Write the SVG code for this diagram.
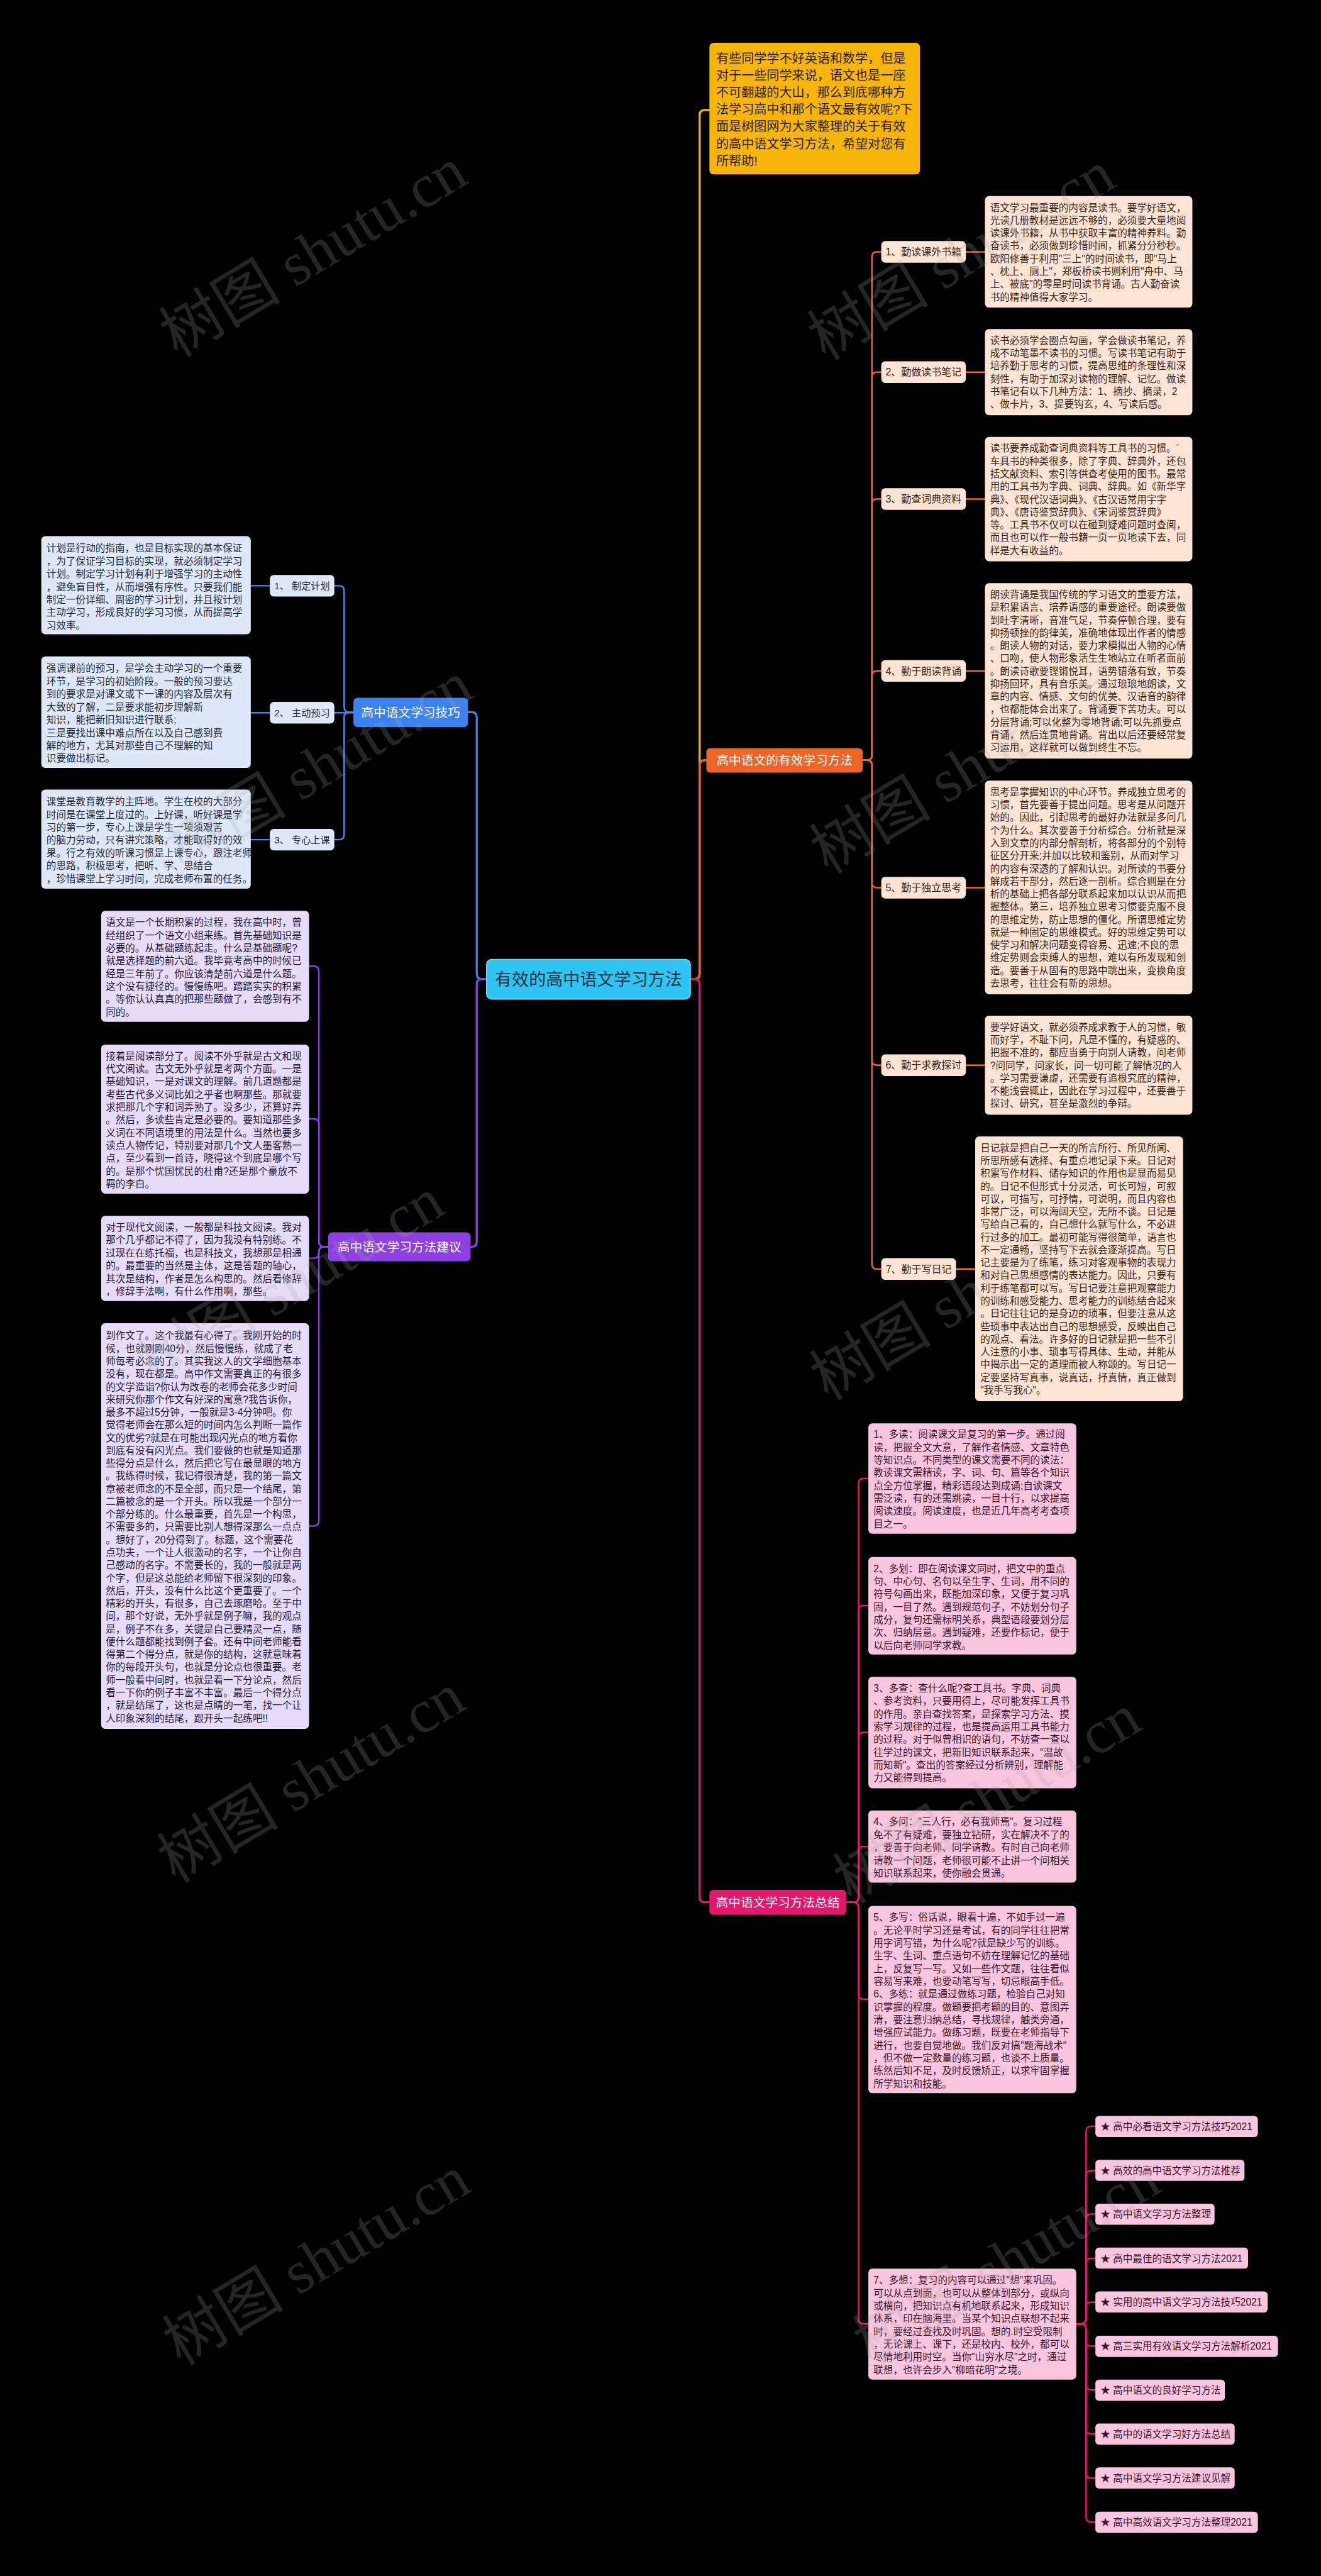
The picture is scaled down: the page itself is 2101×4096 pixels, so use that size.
<svg xmlns="http://www.w3.org/2000/svg" width="2101" height="4096" viewBox="0 0 2101 4096">
<defs>
<style>
.f{font-family:"Liberation Sans","Noto Sans CJK SC",sans-serif}
.bt{font-family:"Liberation Sans","Noto Sans CJK SC",sans-serif;font-size:19px}
.ob{fill:#FCE3D4}
.ot{fill:#3B2418}
.bb{fill:#DFE8F8}
.btx{fill:#1E2B3C}
.pb{fill:#E6DCF9}
.ptx{fill:#24183A}
.mb{fill:#F9C4DD}
.mtx{fill:#3A1428}
.wm{font-family:"Liberation Serif","Noto Sans CJK SC",serif;font-size:118px;fill:#aaaaaa;opacity:0.22}
.c4{fill:none;stroke-width:4;stroke-linecap:round}
.c3{fill:none;stroke-width:3;stroke-linecap:round}
</style>
</defs>
<rect width="2101" height="4096" fill="#000000"/>
<g transform="scale(0.8206)">
<g id="connectors">
<path class="c4" stroke="#F5B400" d="M1338,1897H1346Q1356,1897 1356,1887V223Q1356,213 1366,213H1375"/>
<path class="c4" stroke="#EC6428" d="M1338,1897H1346Q1356,1897 1356,1887V1483Q1356,1473 1366,1473H1369"/>
<path class="c4" stroke="#E3176B" d="M1338,1897H1346Q1356,1897 1356,1907V3676Q1356,3686 1366,3686H1375"/>
<path class="c4" stroke="#3B82EF" d="M943,1897H934Q924,1897 924,1887V1390Q924,1380 914,1380H907"/>
<path class="c4" stroke="#8D3FE2" d="M943,1897H934Q924,1897 924,1907V2406Q924,2416 914,2416H912"/>
<g stroke="#EC6428">
<path class="c3" d="M1672,1473H1680Q1690,1473 1690,1463V498Q1690,488 1700,488H1708"/>
<path class="c3" d="M1672,1473H1680Q1690,1473 1690,1463V731Q1690,721 1700,721H1708"/>
<path class="c3" d="M1672,1473H1680Q1690,1473 1690,1463V977Q1690,967 1700,967H1708"/>
<path class="c3" d="M1672,1473H1680Q1690,1473 1690,1463V1310Q1690,1300 1700,1300H1708"/>
<path class="c3" d="M1672,1473H1680Q1690,1473 1690,1483V1710Q1690,1720 1700,1720H1708"/>
<path class="c3" d="M1672,1473H1680Q1690,1473 1690,1483V2054Q1690,2064 1700,2064H1708"/>
<path class="c3" d="M1672,1473H1680Q1690,1473 1690,1483V2449Q1690,2459 1700,2459H1708"/>
<path class="c3" d="M1872,488H1909M1872,721H1909M1872,967H1909M1872,1300H1909M1872,1720H1909M1872,2064H1909M1853,2459H1890"/>
</g>
<g stroke="#4A88EE">
<path class="c3" d="M685,1380H677Q667,1380 667,1370V1145Q667,1135 657,1135H648"/>
<path class="c3" d="M685,1381H648"/>
<path class="c3" d="M685,1380H677Q667,1380 667,1390V1617Q667,1627 657,1627H648"/>
<path class="c3" d="M523,1135H486M523,1381H486M523,1627H486"/>
</g>
<g stroke="#8D3FE2">
<path class="c3" d="M636,2416H628Q618,2416 618,2406V1882Q618,1872 608,1872H599"/>
<path class="c3" d="M636,2416H628Q618,2416 618,2406V2178Q618,2168 608,2168H599"/>
<path class="c3" d="M636,2416H628Q618,2416 618,2426V2428Q618,2438 608,2438H599"/>
<path class="c3" d="M636,2416H628Q618,2416 618,2426V2947Q618,2957 608,2957H599"/>
</g>
<g stroke="#E3176B">
<path class="c3" d="M1640,3686H1654Q1664,3686 1664,3676V2875Q1664,2865 1674,2865H1683"/>
<path class="c3" d="M1640,3686H1654Q1664,3686 1664,3676V3121Q1664,3111 1674,3111H1683"/>
<path class="c3" d="M1640,3686H1654Q1664,3686 1664,3676V3367Q1664,3357 1674,3357H1683"/>
<path class="c3" d="M1640,3686H1654Q1664,3686 1664,3676V3588Q1664,3578 1674,3578H1683"/>
<path class="c3" d="M1640,3686H1654Q1664,3686 1664,3696V3864Q1664,3874 1674,3874H1683"/>
<path class="c3" d="M1640,3686H1654Q1664,3686 1664,3696V4493Q1664,4503 1674,4503H1683"/>
<path class="c3" d="M2086,4503H2095Q2105,4503 2105,4493V4130Q2105,4120 2115,4120H2123"/>
<path class="c3" d="M2086,4503H2095Q2105,4503 2105,4493V4216Q2105,4206 2115,4206H2123"/>
<path class="c3" d="M2086,4503H2095Q2105,4503 2105,4493V4300Q2105,4290 2115,4290H2123"/>
<path class="c3" d="M2086,4503H2095Q2105,4503 2105,4493V4386Q2105,4376 2115,4376H2123"/>
<path class="c3" d="M2086,4503H2095Q2105,4503 2105,4493V4471Q2105,4461 2115,4461H2123"/>
<path class="c3" d="M2086,4503H2095Q2105,4503 2105,4513V4536Q2105,4546 2115,4546H2123"/>
<path class="c3" d="M2086,4503H2095Q2105,4503 2105,4513V4621Q2105,4631 2115,4631H2123"/>
<path class="c3" d="M2086,4503H2095Q2105,4503 2105,4513V4706Q2105,4716 2115,4716H2123"/>
<path class="c3" d="M2086,4503H2095Q2105,4503 2105,4513V4792Q2105,4802 2115,4802H2123"/>
<path class="c3" d="M2086,4503H2095Q2105,4503 2105,4513V4877Q2105,4887 2115,4887H2123"/>
</g>
</g>

<g id="root">
<rect x="943" y="1859" width="395" height="77" rx="10" fill="#2EC5F5" stroke="#72D6F7" stroke-width="2"/>
<text class="f" x="1140.5" y="1909" font-size="33" fill="#1B3441" text-anchor="middle">有效的高中语文学习方法</text>
</g>

<g id="intro">
<rect x="1375" y="83" width="408" height="255" rx="8" fill="#F7B50C"/>
<text class="f" font-size="24.5" fill="#2A1E00">
<tspan x="1388" y="122">有些同学学不好英语和数学，但是</tspan>
<tspan x="1388" y="155">对于一些同学来说，语文也是一座</tspan>
<tspan x="1388" y="188">不可翻越的大山，那么到底哪种方</tspan>
<tspan x="1388" y="221">法学习高中和那个语文最有效呢?下</tspan>
<tspan x="1388" y="254">面是树图网为大家整理的关于有效</tspan>
<tspan x="1388" y="287">的高中语文学习方法，希望对您有</tspan>
<tspan x="1388" y="320">所帮助!</tspan>
</text>
</g>

<g id="branch-orange">
<rect x="1369" y="1450" width="303" height="47" rx="7" fill="#EC6428"/>
<text class="f" x="1520.5" y="1482" font-size="24" fill="#FFFFFF" text-anchor="middle">高中语文的有效学习方法</text>
</g>

<g id="o1">
<rect class="ob" x="1708" y="467" width="164" height="42" rx="8"/>
<text class="f ot" x="1790" y="495" font-size="19.5" text-anchor="middle">1、勤读课外书籍</text>
<rect class="ob" x="1909" y="380" width="402" height="216" rx="8"/>
<text class="bt ot">
<tspan x="1919" y="409">语文学习最重要的内容是读书。要学好语文，</tspan>
<tspan x="1919" dy="24.7">光读几册教材是远远不够的，必须要大量地阅</tspan>
<tspan x="1919" dy="24.7">读课外书籍，从书中获取丰富的精神养料。勤</tspan>
<tspan x="1919" dy="24.7">奋读书，必须做到珍惜时间，抓紧分分秒秒。</tspan>
<tspan x="1919" dy="24.7">欧阳修善于利用"三上"的时间读书，即"马上</tspan>
<tspan x="1919" dy="24.7">、枕上、厕上"，郑板桥读书则利用"舟中、马</tspan>
<tspan x="1919" dy="24.7">上、被底"的零星时间读书背诵。古人勤奋读</tspan>
<tspan x="1919" dy="24.7">书的精神值得大家学习。</tspan>
</text>
</g>

<g id="o2">
<rect class="ob" x="1708" y="700" width="164" height="42" rx="8"/>
<text class="f ot" x="1790" y="728" font-size="19.5" text-anchor="middle">2、勤做读书笔记</text>
<rect class="ob" x="1909" y="637.5" width="402" height="167" rx="8"/>
<text class="bt ot">
<tspan x="1919" y="666.5">读书必须学会圈点勾画，学会做读书笔记，养</tspan>
<tspan x="1919" dy="24.7">成不动笔墨不读书的习惯。写读书笔记有助于</tspan>
<tspan x="1919" dy="24.7">培养勤于思考的习惯，提高思维的条理性和深</tspan>
<tspan x="1919" dy="24.7">刻性，有助于加深对读物的理解、记忆。做读</tspan>
<tspan x="1919" dy="24.7">书笔记有以下几种方法：1、摘抄、摘录，2</tspan>
<tspan x="1919" dy="24.7">、做卡片，3、提要钩玄，4、写读后感。</tspan>
</text>
</g>

<g id="o3">
<rect class="ob" x="1708" y="946" width="164" height="42" rx="8"/>
<text class="f ot" x="1790" y="974" font-size="19.5" text-anchor="middle">3、勤查词典资料</text>
<rect class="ob" x="1909" y="846.5" width="402" height="241" rx="8"/>
<text class="bt ot">
<tspan x="1919" y="875.5">读书要养成勤查词典资料等工具书的习惯。ˉ</tspan>
<tspan x="1919" dy="24.7">车具书的种类很多，除了字典、辞典外，还包</tspan>
<tspan x="1919" dy="24.7">括文献资料、索引等供查考使用的图书。最常</tspan>
<tspan x="1919" dy="24.7">用的工具书为字典、词典、辞典。如《新华字</tspan>
<tspan x="1919" dy="24.7">典》、《现代汉语词典》、《古汉语常用宇字</tspan>
<tspan x="1919" dy="24.7">典》、《唐诗鉴赏辞典》、《宋词鉴赏辞典》</tspan>
<tspan x="1919" dy="24.7">等。工具书不仅可以在碰到疑难问题时查阅，</tspan>
<tspan x="1919" dy="24.7">而且也可以作一般书籍一页一页地读下去，同</tspan>
<tspan x="1919" dy="24.7">样是大有收益的。</tspan>
</text>
</g>

<g id="o4">
<rect class="ob" x="1708" y="1279" width="164" height="42" rx="8"/>
<text class="f ot" x="1790" y="1307" font-size="19.5" text-anchor="middle">4、勤于朗读背诵</text>
<rect class="ob" x="1909" y="1130" width="402" height="340" rx="8"/>
<text class="bt ot">
<tspan x="1919" y="1159">朗读背诵是我国传统的学习语文的重要方法，</tspan>
<tspan x="1919" dy="24.7">是积累语言、培养语感的重要途径。朗读要做</tspan>
<tspan x="1919" dy="24.7">到吐字清晰，音准气足，节奏停顿合理，要有</tspan>
<tspan x="1919" dy="24.7">抑扬顿挫的韵律美，准确地体现出作者的情感</tspan>
<tspan x="1919" dy="24.7">。朗读人物的对话，要力求模拟出人物的心情</tspan>
<tspan x="1919" dy="24.7">、口吻，使人物形象活生生地站立在听者面前</tspan>
<tspan x="1919" dy="24.7">。朗读诗歌要铿锵悦耳，语势错落有致，节奏</tspan>
<tspan x="1919" dy="24.7">抑扬回环，具有音乐美。通过琅琅地朗读，文</tspan>
<tspan x="1919" dy="24.7">章的内容、情感、文句的优美、汉语音的韵律</tspan>
<tspan x="1919" dy="24.7">，也都能体会出来了。背诵要下苦功夫。可以</tspan>
<tspan x="1919" dy="24.7">分层背诵;可以化整为零地背诵;可以先抓要点</tspan>
<tspan x="1919" dy="24.7">背诵，然后连贯地背诵。背出以后还要经常复</tspan>
<tspan x="1919" dy="24.7">习运用，这样就可以做到终生不忘。</tspan>
</text>
</g>

<g id="o5">
<rect class="ob" x="1708" y="1699" width="164" height="42" rx="8"/>
<text class="f ot" x="1790" y="1727" font-size="19.5" text-anchor="middle">5、勤于独立思考</text>
<rect class="ob" x="1909" y="1512.5" width="402" height="414" rx="8"/>
<text class="bt ot">
<tspan x="1919" y="1541.5">思考是掌握知识的中心环节。养成独立思考的</tspan>
<tspan x="1919" dy="24.7">习惯，首先要善于提出问题。思考是从问题开</tspan>
<tspan x="1919" dy="24.7">始的。因此，引起思考的最好办法就是多问几</tspan>
<tspan x="1919" dy="24.7">个为什么。其次要善于分析综合。分析就是深</tspan>
<tspan x="1919" dy="24.7">入到文章的内部分解剖析，将各部分的个别特</tspan>
<tspan x="1919" dy="24.7">征区分开来;并加以比较和鉴别，从而对学习</tspan>
<tspan x="1919" dy="24.7">的内容有深透的了解和认识。对所读的书要分</tspan>
<tspan x="1919" dy="24.7">解成若干部分，然后逐一剖析。综合则是在分</tspan>
<tspan x="1919" dy="24.7">析的基础上把各部分联系起来加以认识从而把</tspan>
<tspan x="1919" dy="24.7">握整体。第三，培养独立思考习惯要克服不良</tspan>
<tspan x="1919" dy="24.7">的思维定势，防止思想的僵化。所谓思维定势</tspan>
<tspan x="1919" dy="24.7">就是一种固定的思维模式。好的思维定势可以</tspan>
<tspan x="1919" dy="24.7">使学习和解决问题变得容易、迅速;不良的思</tspan>
<tspan x="1919" dy="24.7">维定势则会束缚人的思想，难以有所发现和创</tspan>
<tspan x="1919" dy="24.7">造。要善于从固有的思路中跳出来，变换角度</tspan>
<tspan x="1919" dy="24.7">去思考，往往会有新的思想。</tspan>
</text>
</g>

<g id="o6">
<rect class="ob" x="1708" y="2043" width="164" height="42" rx="8"/>
<text class="f ot" x="1790" y="2071" font-size="19.5" text-anchor="middle">6、勤于求教探讨</text>
<rect class="ob" x="1909" y="1968" width="402" height="192" rx="8"/>
<text class="bt ot">
<tspan x="1919" y="1997">要学好语文，就必须养成求教于人的习惯，敏</tspan>
<tspan x="1919" dy="24.7">而好学，不耻下问，凡是不懂的，有疑惑的、</tspan>
<tspan x="1919" dy="24.7">把握不准的，都应当勇于向别人请教，问老师</tspan>
<tspan x="1919" dy="24.7">?问同学，问家长，问一切可能了解情况的人</tspan>
<tspan x="1919" dy="24.7">。学习需要谦虚，还需要有追根究底的精神，</tspan>
<tspan x="1919" dy="24.7">不能浅尝辄止，因此在学习过程中，还要善于</tspan>
<tspan x="1919" dy="24.7">探讨、研究，甚至是激烈的争辩。</tspan>
</text>
</g>

<g id="o7">
<rect class="ob" x="1708" y="2438" width="145" height="42" rx="8"/>
<text class="f ot" x="1780.5" y="2466" font-size="19.5" text-anchor="middle">7、勤于写日记</text>
<rect class="ob" x="1890" y="2202" width="403" height="513" rx="8"/>
<text class="bt ot">
<tspan x="1900" y="2231">日记就是把自己一天的所言所行、所见所闻、</tspan>
<tspan x="1900" dy="24.7">所思所感有选择、有重点地记录下来。日记对</tspan>
<tspan x="1900" dy="24.7">积累写作材料、储存知识的作用也是显而易见</tspan>
<tspan x="1900" dy="24.7">的。日记不但形式十分灵活，可长可短，可叙</tspan>
<tspan x="1900" dy="24.7">可议，可描写，可抒情，可说明，而且内容也</tspan>
<tspan x="1900" dy="24.7">非常广泛，可以海阔天空，无所不谈。日记是</tspan>
<tspan x="1900" dy="24.7">写给自己看的，自己想什么就写什么，不必进</tspan>
<tspan x="1900" dy="24.7">行过多的加工。最初可能写得很简单，语言也</tspan>
<tspan x="1900" dy="24.7">不一定通畅，坚持写下去就会逐渐提高。写日</tspan>
<tspan x="1900" dy="24.7">记主要是为了练笔，练习对客观事物的表现力</tspan>
<tspan x="1900" dy="24.7">和对自己思想感情的表达能力。因此，只要有</tspan>
<tspan x="1900" dy="24.7">利于练笔都可以写。写日记要注意把观察能力</tspan>
<tspan x="1900" dy="24.7">的训练和感受能力、思考能力的训练结合起来</tspan>
<tspan x="1900" dy="24.7">。日记往往记的是身边的琐事，但要注意从这</tspan>
<tspan x="1900" dy="24.7">些琐事中表达出自己的思想感受，反映出自己</tspan>
<tspan x="1900" dy="24.7">的观点、看法。许多好的日记就是把一些不引</tspan>
<tspan x="1900" dy="24.7">人注意的小事、琐事写得具体、生动，并能从</tspan>
<tspan x="1900" dy="24.7">中揭示出一定的道理而被人称颂的。写日记一</tspan>
<tspan x="1900" dy="24.7">定要坚持写真事，说真话，抒真情，真正做到</tspan>
<tspan x="1900" dy="24.7">"我手写我心"。</tspan>
</text>
</g>

<g id="branch-blue">
<rect x="685" y="1352" width="222" height="57" rx="8" fill="#3B82EF"/>
<text class="f" x="796" y="1389" font-size="24" fill="#FFFFFF" text-anchor="middle">高中语文学习技巧</text>
</g>

<g id="b1">
<rect class="bb" x="523" y="1114" width="125" height="42" rx="8"/>
<text class="f btx" x="585.5" y="1142" font-size="18.5" text-anchor="middle">1、 制定计划</text>
<rect class="bb" x="80" y="1039" width="406" height="190" rx="8"/>
<text class="bt btx">
<tspan x="90" y="1069">计划是行动的指南，也是目标实现的基本保证</tspan>
<tspan x="90" dy="24.9">，为了保证学习目标的实现，就必须制定学习</tspan>
<tspan x="90" dy="24.9">计划。制定学习计划有利于增强学习的主动性</tspan>
<tspan x="90" dy="24.9">，避免盲目性，从而增强有序性。只要我们能</tspan>
<tspan x="90" dy="24.9">制定一份详细、周密的学习计划，并且按计划</tspan>
<tspan x="90" dy="24.9">主动学习，形成良好的学习习惯，从而提高学</tspan>
<tspan x="90" dy="24.9">习效率。</tspan>
</text>
</g>

<g id="b2">
<rect class="bb" x="523" y="1360" width="125" height="42" rx="8"/>
<text class="f btx" x="585.5" y="1388" font-size="18.5" text-anchor="middle">2、 主动预习</text>
<rect class="bb" x="80" y="1272" width="406" height="216" rx="8"/>
<text class="bt btx">
<tspan x="90" y="1302">强调课前的预习，是学会主动学习的一个重要</tspan>
<tspan x="90" dy="24.9">环节，是学习的初始阶段。一般的预习要达</tspan>
<tspan x="90" dy="24.9">到的要求是对课文或下一课的内容及层次有</tspan>
<tspan x="90" dy="24.9">大致的了解，二是要求能初步理解新</tspan>
<tspan x="90" dy="24.9">知识，能把新旧知识进行联系;</tspan>
<tspan x="90" dy="24.9">三是要找出课中难点所在以及自己感到费</tspan>
<tspan x="90" dy="24.9">解的地方，尤其对那些自己不理解的知</tspan>
<tspan x="90" dy="24.9">识要做出标记。</tspan>
</text>
</g>

<g id="b3">
<rect class="bb" x="523" y="1606" width="125" height="42" rx="8"/>
<text class="f btx" x="585.5" y="1634" font-size="18.5" text-anchor="middle">3、 专心上课</text>
<rect class="bb" x="80" y="1530" width="406" height="192" rx="8"/>
<text class="bt btx">
<tspan x="90" y="1560">课堂是教育教学的主阵地。学生在校的大部分</tspan>
<tspan x="90" dy="24.9">时间是在课堂上度过的。上好课，听好课是学</tspan>
<tspan x="90" dy="24.9">习的第一步，专心上课是学生一项须艰苦</tspan>
<tspan x="90" dy="24.9">的脑力劳动，只有讲究策略，才能取得好的效</tspan>
<tspan x="90" dy="24.9">果。行之有效的听课习惯是上课专心，跟注老师</tspan>
<tspan x="90" dy="24.9">的思路，积极思考，把听、学、思结合</tspan>
<tspan x="90" dy="24.9">，珍惜课堂上学习时间，完成老师布置的任务。</tspan>
</text>
</g>

<g id="branch-purple">
<rect x="636" y="2388" width="276" height="56" rx="8" fill="#8D3FE2"/>
<text class="f" x="774" y="2424.5" font-size="24" fill="#FFFFFF" text-anchor="middle">高中语文学习方法建议</text>
</g>

<g id="p1">
<rect class="pb" x="196" y="1765" width="403" height="215" rx="8"/>
<text class="bt ptx">
<tspan x="205" y="1794">语文是一个长期积累的过程，我在高中时，曾</tspan>
<tspan x="205" dy="24.8">经组织了一个语文小组来练。首先基础知识是</tspan>
<tspan x="205" dy="24.8">必要的。从基础题练起走。什么是基础题呢?</tspan>
<tspan x="205" dy="24.8">就是选择题的前六道。我毕竟考高中的时候已</tspan>
<tspan x="205" dy="24.8">经是三年前了。你应该清楚前六道是什么题。</tspan>
<tspan x="205" dy="24.8">这个没有捷径的。慢慢练吧。踏踏实实的积累</tspan>
<tspan x="205" dy="24.8">。等你认认真真的把那些题做了，会感到有不</tspan>
<tspan x="205" dy="24.8">同的。</tspan>
</text>
</g>

<g id="p2">
<rect class="pb" x="196" y="2024" width="403" height="289" rx="8"/>
<text class="bt ptx">
<tspan x="205" y="2053">接着是阅读部分了。阅读不外乎就是古文和现</tspan>
<tspan x="205" dy="24.8">代文阅读。古文无外乎就是考两个方面。一是</tspan>
<tspan x="205" dy="24.8">基础知识，一是对课文的理解。前几道题都是</tspan>
<tspan x="205" dy="24.8">考些古代多义词比如之乎者也啊那些。那就要</tspan>
<tspan x="205" dy="24.8">求把那几个字和词弄熟了。没多少，还算好弄</tspan>
<tspan x="205" dy="24.8">。然后，多读些肯定是必要的。要知道那些多</tspan>
<tspan x="205" dy="24.8">义词在不同语境里的用法是什么。当然也要多</tspan>
<tspan x="205" dy="24.8">读点人物传记，特别要对那几个文人墨客熟一</tspan>
<tspan x="205" dy="24.8">点，至少看到一首诗，晓得这个到底是哪个写</tspan>
<tspan x="205" dy="24.8">的。是那个忧国忧民的杜甫?还是那个豪放不</tspan>
<tspan x="205" dy="24.8">羁的李白。</tspan>
</text>
</g>

<g id="p3">
<rect class="pb" x="196" y="2356" width="403" height="165" rx="8"/>
<text class="bt ptx">
<tspan x="205" y="2385">对于现代文阅读，一般都是科技文阅读。我对</tspan>
<tspan x="205" dy="24.8">那个几乎都记不得了，因为我没有特别练。不</tspan>
<tspan x="205" dy="24.8">过现在在练托福，也是科技文，我想那是相通</tspan>
<tspan x="205" dy="24.8">的。最重要的当然是主体，这是答题的轴心，</tspan>
<tspan x="205" dy="24.8">其次是结构，作者是怎么构思的。然后看修辞</tspan>
<tspan x="205" dy="24.8">，修辞手法啊，有什么作用啊，那些。</tspan>
</text>
</g>

<g id="p4">
<rect class="pb" x="196" y="2564" width="403" height="786" rx="8"/>
<text class="bt ptx">
<tspan x="205" y="2595">到作文了。这个我最有心得了。我刚开始的时</tspan>
<tspan x="205" dy="24.7">候，也就刚刚40分，然后慢慢练，就成了老</tspan>
<tspan x="205" dy="24.7">师每考必念的了。其实我这人的文学细胞基本</tspan>
<tspan x="205" dy="24.7">没有，现在都是。高中作文需要真正的有很多</tspan>
<tspan x="205" dy="24.7">的文学造诣?你认为改卷的老师会花多少时间</tspan>
<tspan x="205" dy="24.7">来研究你那个作文有好深的寓意?我告诉你，</tspan>
<tspan x="205" dy="24.7">最多不超过5分钟，一般就是3-4分钟吧。你</tspan>
<tspan x="205" dy="24.7">觉得老师会在那么短的时间内怎么判断一篇作</tspan>
<tspan x="205" dy="24.7">文的优劣?就是在可能出现闪光点的地方看你</tspan>
<tspan x="205" dy="24.7">到底有没有闪光点。我们要做的也就是知道那</tspan>
<tspan x="205" dy="24.7">些得分点是什么，然后把它写在最显眼的地方</tspan>
<tspan x="205" dy="24.7">。我练得时候，我记得很清楚，我的第一篇文</tspan>
<tspan x="205" dy="24.7">章被老师念的不是全部，而只是一个结尾，第</tspan>
<tspan x="205" dy="24.7">二篇被念的是一个开头。所以我是一个部分一</tspan>
<tspan x="205" dy="24.7">个部分练的。什么最重要，首先是一个构思，</tspan>
<tspan x="205" dy="24.7">不需要多的，只需要比别人想得深那么一点点</tspan>
<tspan x="205" dy="24.7">。想好了，20分得到了。标题，这个需要花</tspan>
<tspan x="205" dy="24.7">点功夫，一个让人很激动的名字，一个让你自</tspan>
<tspan x="205" dy="24.7">己感动的名字。不需要长的，我的一般就是两</tspan>
<tspan x="205" dy="24.7">个字，但是这总能给老师留下很深刻的印象。</tspan>
<tspan x="205" dy="24.7">然后，开头，没有什么比这个更重要了。一个</tspan>
<tspan x="205" dy="24.7">精彩的开头，有很多，自己去琢磨哈。至于中</tspan>
<tspan x="205" dy="24.7">间，那个好说，无外乎就是例子嘛，我的观点</tspan>
<tspan x="205" dy="24.7">是，例子不在多，关键是自己要精灵一点，随</tspan>
<tspan x="205" dy="24.7">便什么题都能找到例子套。还有中间老师能看</tspan>
<tspan x="205" dy="24.7">得第二个得分点，就是你的结构，这就意味着</tspan>
<tspan x="205" dy="24.7">你的每段开头句，也就是分论点也很重要。老</tspan>
<tspan x="205" dy="24.7">师一般看中间时，也就是看一下分论点，然后</tspan>
<tspan x="205" dy="24.7">看一下你的例子丰富不丰富。最后一个得分点</tspan>
<tspan x="205" dy="24.7">，就是结尾了，这也是点睛的一笔，找一个让</tspan>
<tspan x="205" dy="24.7">人印象深刻的结尾，跟开头一起练吧!!</tspan>
</text>
</g>

<g id="branch-magenta">
<rect x="1375" y="3662" width="265" height="48" rx="7" fill="#E3176B"/>
<text class="f" x="1507.5" y="3694.5" font-size="24" fill="#FFFFFF" text-anchor="middle">高中语文学习方法总结</text>
</g>

<g id="m1">
<rect class="mb" x="1683" y="2758" width="403" height="214" rx="8"/>
<text class="bt mtx">
<tspan x="1693" y="2786">1、多读：阅读课文是复习的第一步。通过阅</tspan>
<tspan x="1693" dy="24.8">读，把握全文大意，了解作者情感、文章特色</tspan>
<tspan x="1693" dy="24.8">等知识点。不同类型的课文需要不同的读法：</tspan>
<tspan x="1693" dy="24.8">教读课文需精读，字、词、句、篇等各个知识</tspan>
<tspan x="1693" dy="24.8">点全方位掌握，精彩语段达到成诵;自读课文</tspan>
<tspan x="1693" dy="24.8">需泛读，有的还需跳读，一目十行，以求提高</tspan>
<tspan x="1693" dy="24.8">阅读速度。阅读速度，也是近几年高考考查项</tspan>
<tspan x="1693" dy="24.8">目之一。</tspan>
</text>
</g>

<g id="m2">
<rect class="mb" x="1683" y="3017" width="403" height="189" rx="8"/>
<text class="bt mtx">
<tspan x="1693" y="3046">2、多划：即在阅读课文同时，把文中的重点</tspan>
<tspan x="1693" dy="24.8">句、中心句、名句以至生字、生词，用不同的</tspan>
<tspan x="1693" dy="24.8">符号勾画出来，既能加深印象，又便于复习巩</tspan>
<tspan x="1693" dy="24.8">固，一目了然。遇到规范句子，不妨划分句子</tspan>
<tspan x="1693" dy="24.8">成分，复句还需标明关系，典型语段要划分层</tspan>
<tspan x="1693" dy="24.8">次、归纳层意。遇到疑难，还要作标记，便于</tspan>
<tspan x="1693" dy="24.8">以后向老师同学求教。</tspan>
</text>
</g>

<g id="m3">
<rect class="mb" x="1683" y="3249" width="403" height="216" rx="8"/>
<text class="bt mtx">
<tspan x="1693" y="3278">3、多查：查什么呢?查工具书。字典、词典</tspan>
<tspan x="1693" dy="24.8">、参考资料，只要用得上，尽可能发挥工具书</tspan>
<tspan x="1693" dy="24.8">的作用。亲自查找答案，是探索学习方法、摸</tspan>
<tspan x="1693" dy="24.8">索学习规律的过程，也是提高运用工具书能力</tspan>
<tspan x="1693" dy="24.8">的过程。对于似曾相识的语句，不妨查一查以</tspan>
<tspan x="1693" dy="24.8">往学过的课文，把新旧知识联系起来，"温故</tspan>
<tspan x="1693" dy="24.8">而知新"。查出的答案经过分析辨别，理解能</tspan>
<tspan x="1693" dy="24.8">力又能得到提高。</tspan>
</text>
</g>

<g id="m4">
<rect class="mb" x="1683" y="3508" width="403" height="140" rx="8"/>
<text class="bt mtx">
<tspan x="1693" y="3537">4、多问："三人行，必有我师焉"。复习过程</tspan>
<tspan x="1693" dy="24.8">免不了有疑难，要独立钻研，实在解决不了的</tspan>
<tspan x="1693" dy="24.8">，要善于向老师、同学请教。有时自己向老师</tspan>
<tspan x="1693" dy="24.8">请教一个问题，老师很可能不止讲一个问相关</tspan>
<tspan x="1693" dy="24.8">知识联系起来，使你融会贯通。</tspan>
</text>
</g>

<g id="m5">
<rect class="mb" x="1683" y="3693" width="403" height="363" rx="8"/>
<text class="bt mtx">
<tspan x="1693" y="3722">5、多写：俗话说，眼看十遍，不如手过一遍</tspan>
<tspan x="1693" dy="24.8">。无论平时学习还是考试，有的同学往往把常</tspan>
<tspan x="1693" dy="24.8">用字词写错，为什么呢?就是缺少写的训练。</tspan>
<tspan x="1693" dy="24.8">生字、生词、重点语句不妨在理解记忆的基础</tspan>
<tspan x="1693" dy="24.8">上，反复写一写。又如一些作文题，往往看似</tspan>
<tspan x="1693" dy="24.8">容易写来难，也要动笔写写，切忌眼高手低。</tspan>
<tspan x="1693" dy="24.8">6、多练：就是通过做练习题，检验自己对知</tspan>
<tspan x="1693" dy="24.8">识掌握的程度。做题要把考题的目的、意图弄</tspan>
<tspan x="1693" dy="24.8">清，要注意归纳总结，寻找规律，触类旁通，</tspan>
<tspan x="1693" dy="24.8">增强应试能力。做练习题，既要在老师指导下</tspan>
<tspan x="1693" dy="24.8">进行，也要自觉地做。我们反对搞"题海战术"</tspan>
<tspan x="1693" dy="24.8">，但不做一定数量的练习题，也谈不上质量。</tspan>
<tspan x="1693" dy="24.8">练然后知不足，及时反馈矫正，以求牢固掌握</tspan>
<tspan x="1693" dy="24.8">所学知识和技能。</tspan>
</text>
</g>

<g id="m7">
<rect class="mb" x="1683" y="4396" width="403" height="215" rx="8"/>
<text class="bt mtx">
<tspan x="1693" y="4425">7、多想：复习的内容可以通过"想"来巩固。</tspan>
<tspan x="1693" dy="24.8">可以从点到面，也可以从整体到部分，或纵向</tspan>
<tspan x="1693" dy="24.8">或横向，把知识点有机地联系起来，形成知识</tspan>
<tspan x="1693" dy="24.8">体系，印在脑海里。当某个知识点联想不起来</tspan>
<tspan x="1693" dy="24.8">时，要经过查找及时巩固。想的.时空受限制</tspan>
<tspan x="1693" dy="24.8">，无论课上、课下，还是校内、校外，都可以</tspan>
<tspan x="1693" dy="24.8">尽情地利用时空。当你"山穷水尽"之时，通过</tspan>
<tspan x="1693" dy="24.8">联想，也许会步入"柳暗花明"之境。</tspan>
</text>
</g>

<g id="list">
<g id="l1"><rect class="mb" x="2123" y="4100" width="315" height="41" rx="7"/><text class="bt mtx" x="2133" y="4127">★ 高中必看语文学习方法技巧2021</text></g>
<g id="l2"><rect class="mb" x="2123" y="4185" width="289" height="41" rx="7"/><text class="bt mtx" x="2133" y="4213">★ 高效的高中语文学习方法推荐</text></g>
<g id="l3"><rect class="mb" x="2123" y="4270" width="231" height="41" rx="7"/><text class="bt mtx" x="2133" y="4297">★ 高中语文学习方法整理</text></g>
<g id="l4"><rect class="mb" x="2123" y="4355" width="296" height="41" rx="7"/><text class="bt mtx" x="2133" y="4383">★ 高中最佳的语文学习方法2021</text></g>
<g id="l5"><rect class="mb" x="2123" y="4440" width="334" height="41" rx="7"/><text class="bt mtx" x="2133" y="4468">★ 实用的高中语文学习方法技巧2021</text></g>
<g id="l6"><rect class="mb" x="2123" y="4526" width="354" height="41" rx="7"/><text class="bt mtx" x="2133" y="4553">★ 高三实用有效语文学习方法解析2021</text></g>
<g id="l7"><rect class="mb" x="2123" y="4611" width="251" height="41" rx="7"/><text class="bt mtx" x="2133" y="4638">★ 高中语文的良好学习方法</text></g>
<g id="l8"><rect class="mb" x="2123" y="4696" width="270" height="41" rx="7"/><text class="bt mtx" x="2133" y="4723">★ 高中的语文学习好方法总结</text></g>
<g id="l9"><rect class="mb" x="2123" y="4781" width="270" height="41" rx="7"/><text class="bt mtx" x="2133" y="4809">★ 高中语文学习方法建议见解</text></g>
<g id="l10"><rect class="mb" x="2123" y="4867" width="315" height="41" rx="7"/><text class="bt mtx" x="2133" y="4894">★ 高中高效语文学习方法整理2021</text></g>
</g>

<g id="watermarks">
<text class="wm" transform="translate(344,694) rotate(-31)">树图 shutu.cn</text>
<text class="wm" transform="translate(1600,700) rotate(-31)">树图 shutu.cn</text>
<text class="wm" transform="translate(355,1690) rotate(-31)">树图 shutu.cn</text>
<text class="wm" transform="translate(1605,1695) rotate(-31)">树图 shutu.cn</text>
<text class="wm" transform="translate(300,2690) rotate(-31)">树图 shutu.cn</text>
<text class="wm" transform="translate(1605,2715) rotate(-31)">树图 shutu.cn</text>
<text class="wm" transform="translate(340,3650) rotate(-31)">树图 shutu.cn</text>
<text class="wm" transform="translate(1650,3690) rotate(-31)">树图 shutu.cn</text>
<text class="wm" transform="translate(350,4585) rotate(-31)">树图 shutu.cn</text>
<text class="wm" transform="translate(1688,4585) rotate(-31)">树图 shutu.cn</text>
</g>
</g>
</svg>
